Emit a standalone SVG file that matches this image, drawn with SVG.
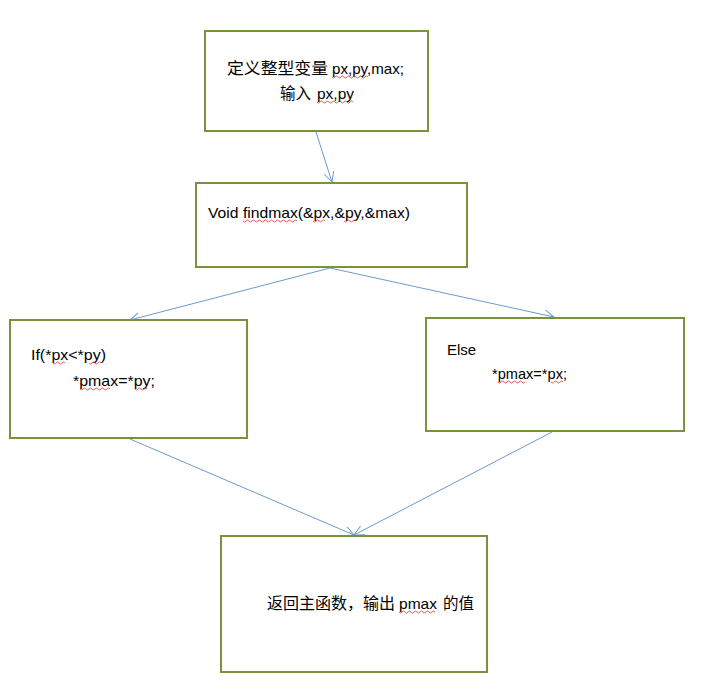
<svg xmlns="http://www.w3.org/2000/svg" width="711" height="692" viewBox="0 0 711 692">
<style>
.box{fill:#fff;stroke:#77933C;stroke-width:2}
.t{font-family:"Liberation Sans","Noto Sans CJK SC",sans-serif;font-size:15px;fill:#000;white-space:pre}
.cjk{font-family:"Noto Sans CJK SC","Liberation Sans",sans-serif;font-size:16px}
.c{stroke:#6a9bd0;stroke-width:1;fill:none}
.sq{stroke:#e03030;stroke-width:0.8;fill:none}
</style>
<defs>
<marker id="ah" markerWidth="12" markerHeight="12" refX="10" refY="5" orient="auto" markerUnits="userSpaceOnUse">
<path d="M0,0 L10,5 L0,10" fill="none" stroke="#6a9bd0" stroke-width="1"/>
</marker>
</defs>
<rect width="711" height="692" fill="#fff"/>
<g id="connectors">
<line class="c" x1="316" y1="132" x2="332" y2="182" marker-end="url(#ah)"/>
<line class="c" x1="330" y1="268" x2="130" y2="320" marker-end="url(#ah)"/>
<line class="c" x1="330" y1="268" x2="554" y2="317" marker-end="url(#ah)"/>
<line class="c" x1="130" y1="439" x2="354" y2="535" marker-end="url(#ah)"/>
<line class="c" x1="552" y1="432" x2="354" y2="535" marker-end="url(#ah)"/>
</g>
<g id="n1">
<rect class="box" x="205" y="31" width="223" height="100"/>
<text class="t" x="227" y="74"><tspan class="cjk" textLength="101" lengthAdjust="spacingAndGlyphs">定义整型变量</tspan> <tspan x="332" textLength="72" lengthAdjust="spacingAndGlyphs">px,py,max;</tspan></text>
<text class="t" x="280" y="99"><tspan class="cjk" textLength="31" lengthAdjust="spacingAndGlyphs">输入</tspan> <tspan x="317" textLength="37" lengthAdjust="spacingAndGlyphs">px,py</tspan></text>
<path class="sq" d="M332,77 q1.5,2 3,0 t3,0 t3,0 t3,0 t3,0 t3,0 t3,0 t3,0 t3,0 t3,0 t3,0 t3,0"/>
<path class="sq" d="M317,102 q1.5,2 3,0 t3,0 t3,0 t3,0 t3,0 t3,0 t3,0 t3,0 t3,0 t3,0 t3,0 t3,0"/>
</g>
<g id="n2">
<rect class="box" x="196" y="183" width="271" height="84"/>
<text class="t" x="208" y="218" textLength="202" lengthAdjust="spacingAndGlyphs">Void findmax(&amp;px,&amp;py,&amp;max)</text>
<path class="sq" d="M243,221 q1.5,2 3,0 t3,0 t3,0 t3,0 t3,0 t3,0 t3,0 t3,0 t3,0 t3,0 t3,0 t3,0 t3,0 t3,0 t3,0 t3,0 t3,0 t3,0"/>
<path class="sq" d="M313,221 q1.5,2 3,0 t3,0 t3,0 t3,0"/>
<path class="sq" d="M344,221 q1.5,2 3,0 t3,0 t3,0 t3,0"/>
</g>
<g id="n3">
<rect class="box" x="10" y="320" width="237" height="118"/>
<text class="t" x="31" y="360" textLength="75" lengthAdjust="spacingAndGlyphs">If(*px&lt;*py)</text>
<text class="t" x="73" y="386" textLength="82" lengthAdjust="spacingAndGlyphs">*pmax=*py;</text>
<path class="sq" d="M53,363 q1.5,2 3,0 t3,0 t3,0 t3,0"/>
<path class="sq" d="M89,363 q1.5,2 3,0 t3,0 t3,0 t3,0"/>
<path class="sq" d="M80,389 q1.5,2 3,0 t3,0 t3,0 t3,0 t3,0 t3,0 t3,0 t3,0 t3,0 t3,0"/>
<path class="sq" d="M135,389 q1.5,2 3,0 t3,0 t3,0 t3,0"/>
</g>
<g id="n4">
<rect class="box" x="426" y="318" width="258" height="113"/>
<text class="t" x="447" y="355">Else</text>
<text class="t" x="492" y="379" textLength="75" lengthAdjust="spacingAndGlyphs">*pmax=*px;</text>
<path class="sq" d="M498,382 q1.5,2 3,0 t3,0 t3,0 t3,0 t3,0 t3,0 t3,0 t3,0 t3,0"/>
<path class="sq" d="M551,382 q1.5,2 3,0 t3,0 t3,0 t3,0"/>
</g>
<g id="n5">
<rect class="box" x="221" y="536" width="266" height="136"/>
<text class="t" x="267" y="609"><tspan class="cjk" textLength="128" lengthAdjust="spacingAndGlyphs">返回主函数，输出</tspan> <tspan x="399" textLength="38" lengthAdjust="spacingAndGlyphs">pmax</tspan> <tspan class="cjk" x="443" textLength="31" lengthAdjust="spacingAndGlyphs">的值</tspan></text>
<path class="sq" d="M399,612 q1.5,2 3,0 t3,0 t3,0 t3,0 t3,0 t3,0 t3,0 t3,0 t3,0 t3,0 t3,0 t3,0"/>
</g>
</svg>
